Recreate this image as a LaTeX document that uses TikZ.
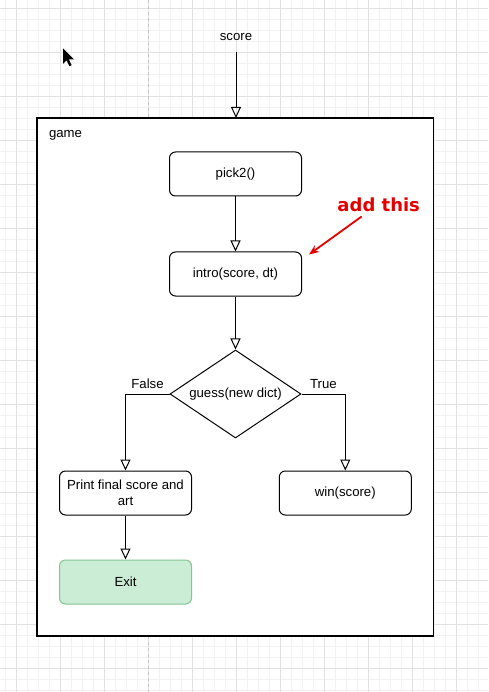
\documentclass[tikz,border=0pt]{standalone}
\usepackage{fontspec}
\setmainfont{Liberation Sans}
\newfontfamily\notefont{DejaVu Sans}
\usetikzlibrary{arrows.meta, positioning, shapes.geometric}

\definecolor{gridminor}{HTML}{F2F2F2}
\definecolor{gridmajor}{HTML}{E2E2E2}
\definecolor{pageline}{HTML}{C4C4C4}
\definecolor{exitfill}{HTML}{CCEDD5}
\definecolor{exitline}{HTML}{86C592}
\definecolor{hintred}{HTML}{E50000}

\begin{document}
\begin{tikzpicture}[x=1pt, y=-1pt, line width=1pt,
    font=\fontsize{13.2pt}{15.7pt}\selectfont]
  \tikzstyle{box}=[draw, rounded corners=6pt, minimum width=132pt, minimum height=44pt, align=center, inner sep=2pt]
  \tikzstyle{decision}=[draw, diamond, aspect=1.49, minimum width=131pt, minimum height=88pt, inner sep=0pt]
  \tikzstyle{flow}=[-{Triangle[open, length=11pt, width=10pt]}]
  \tikzstyle{minorline}=[draw=gridminor, line width=0.8pt]
  \tikzstyle{majorline}=[draw=gridmajor, line width=0.8pt]

  \useasboundingbox (0,0) rectangle (488,692);
  \foreach \i in {-1,...,43} \draw[minorline] ({16.7+11*\i},0) -- ++(0,692);
  \foreach \j in {-1,...,62} \draw[minorline] (0,{8.3+11*\j}) -- ++(488,0);
  \foreach \i in {0,...,11} \draw[majorline] ({16.7+44*\i},0) -- ++(0,692);
  \foreach \j in {0,...,15} \draw[majorline] (0,{8.3+44*\j}) -- ++(488,0);
  \draw[pageline, dashed, line width=0.9pt] (148,0) -- (148,692);

  \fill (63,48.5) -- (63,64) -- (66.6,60.4) -- (69.4,66.2) -- (71.6,65.2) -- (68.9,59.4) -- (74,59.4) -- cycle;

  \draw[fill=white, line width=1.2pt] (37,118) rectangle (433.5,636);
  \node[anchor=west, inner sep=0pt] (game) at (48.5,135) {game};
  \coordinate (gtop) at (236,118);
  \node[minimum height=30pt] (score) at (236,37) {score};

  \node[box]                     (pick)  at (235.5,174)  {pick2()};
  \node[box, below=55pt of pick] (intro)                 {intro(score, dt)};
  \node[decision, below=53pt of intro] (guess)           {guess(new dict)};
  \node[box]                     (print) at (125.5,493)  {Print final score and\\art};
  \node[box]                     (win)   at (345.3,493)  {win(score)};
  \node[box, fill=exitfill, draw=exitline, below=44pt of print] (exit) {Exit};

  \node[text=hintred, inner sep=0pt, font=\notefont\bfseries\fontsize{18pt}{20pt}\selectfont] (note) at (378.7,205) {add this};

  \draw[flow] (score) -- (gtop);
  \draw[flow] (pick) -- (intro);
  \draw[flow] (intro) -- (guess);
  \draw[flow] (guess.west) -| (print.north) node[pos=0.25, above, yshift=2pt] {False};
  \draw[flow] (guess.east) -| (win.north) node[pos=0.25, above, yshift=2pt] {True};
  \draw[flow] (print) -- (exit);
  \draw[hintred, line width=1.8pt, -{Stealth[length=10pt, width=8pt]}] ([xshift=-17pt, yshift=-4pt]note.south) -- ([xshift=7pt, yshift=-3pt]intro.north east);
\end{tikzpicture}
\end{document}
